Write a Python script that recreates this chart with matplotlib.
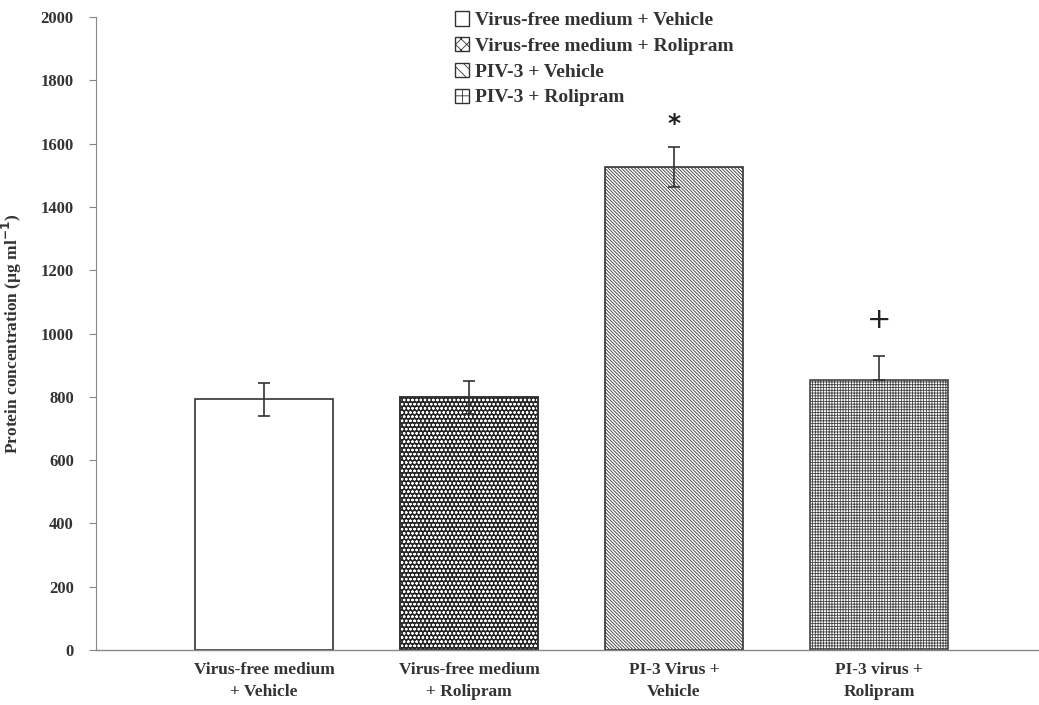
import matplotlib
matplotlib.use("Agg")
import matplotlib.pyplot as plt
from matplotlib.patches import Patch
import numpy as np

categories = ["Virus-free medium\n+ Vehicle", "Virus-free medium\n+ Rolipram",
              "PI-3 Virus +\nVehicle", "PI-3 virus +\nRolipram"]
values = [792, 798, 1527, 853]
errors = [52, 52, 63, 75]
legend_labels = ["Virus-free medium + Vehicle", "Virus-free medium + Rolipram",
                 "PIV-3 + Vehicle", "PIV-3 + Rolipram"]
sig_marks = ["", "", "*", "+"]
yticks = [0, 200, 400, 600, 800, 1000, 1200, 1400, 1600, 1800, 2000]

plt.rcParams['font.family'] = ['Liberation Serif', 'DejaVu Serif']
plt.rcParams['font.weight'] = 'bold'
plt.rcParams['hatch.linewidth'] = 0.6

fig = plt.figure(figsize=(10.39, 7.05), dpi=100)
ax = fig.add_axes([96/1039, 55/705, 1 - 96/1039, (650-17)/705])

x = np.arange(len(values))
W = 0.67
edge = '#333333'
# bar 1: plain white
ax.bar(x[0], values[0], width=W, color='white', edgecolor=edge, linewidth=1.2, zorder=2)
# bar 2: checkerboard look (dark face with white dot hatch)
ax.bar(x[1], values[1], width=W, color='#262626', edgecolor='white', hatch='oooo',
       linewidth=0, zorder=2)
ax.bar(x[1], values[1], width=W, color='none', edgecolor=edge, linewidth=1.4, zorder=2)
# bar 3: diagonal lines
ax.bar(x[2], values[2], width=W, color='white', edgecolor=edge, hatch='\\' * 10,
       linewidth=1.2, zorder=2)
# bar 4: fine grid
ax.bar(x[3], values[3], width=W, color='white', edgecolor='#444444', hatch='+' * 6,
       linewidth=1.2, zorder=2)

for i in range(len(values)):
    lo = 0 if i == 3 else errors[i]
    ax.errorbar(x[i], values[i], yerr=[[lo], [errors[i]]], fmt='none',
                ecolor='#333333', elinewidth=1.2, capsize=4, capthick=1.2, zorder=3)
    if sig_marks[i]:
        star = sig_marks[i] == '*'
        ax.text(x[i], values[i] + errors[i] + (72 if star else 115), sig_marks[i],
                ha='center', va='center', fontsize=18 if star else 21,
                color='#222222', fontweight='bold' if star else 'normal',
                family='DejaVu Sans')

ax.set_ylim(0, 2000)
ax.set_xlim(-0.82, 3.78)
ax.set_yticks(yticks)
ax.set_yticklabels([str(t) for t in yticks], fontsize=12, fontweight='bold', color='#333333')
ax.set_xticks(x)
ax.set_xticklabels(categories, fontsize=12.5, fontweight='bold', color='#333333', linespacing=1.45)
ax.tick_params(axis='x', length=0, pad=9)
ax.tick_params(axis='y', length=5, width=0.8, color='#888888', pad=11)
ax.set_ylabel("Protein concentration (µg ml$^{\\mathbf{-1}}$)", fontsize=12.5,
              fontweight='bold', color='#333333', labelpad=12)
for s in ['top', 'right']:
    ax.spines[s].set_visible(False)
ax.spines['left'].set_color('#888888')
ax.spines['bottom'].set_color('#888888')
ax.spines['left'].set_linewidth(0.8)
ax.spines['bottom'].set_linewidth(1.0)

handles = [Patch(facecolor='white', edgecolor='#333333'),
           Patch(facecolor='white', edgecolor='#333333', hatch='xxx'),
           Patch(facecolor='white', edgecolor='#333333', hatch='\\\\\\'),
           Patch(facecolor='white', edgecolor='#333333', hatch='++')]
leg = ax.legend(handles, legend_labels, loc='upper left', bbox_to_anchor=(0.372, 1.021),
                frameon=False, fontsize=14, handlelength=0.75, handleheight=0.75,
                handletextpad=0.3, labelspacing=0.4, borderaxespad=0)
for t in leg.get_texts():
    t.set_color('#333333')

fig.savefig("out.png", dpi=100)
